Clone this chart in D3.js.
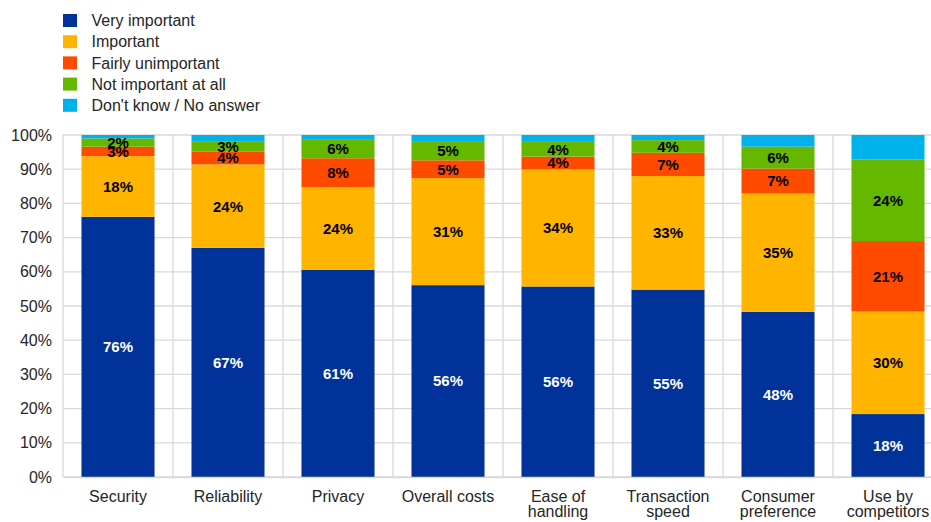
<!DOCTYPE html>
<html>
<head>
<meta charset="utf-8">
<script src="https://cdn.jsdelivr.net/npm/d3@7"></script>
<style>
  html, body { margin: 0; padding: 0; background: #fff; }
  svg { display: block; font-family: "Liberation Sans", Arial, sans-serif; }
</style>
</head>
<body>
<svg id="chart" width="931" height="522"></svg>
<script>
// Factors and their x-axis labels (line breaks as drawn)
const categories = ["Security", "Reliability", "Privacy", "Overall costs", "Ease of handling",
                    "Transaction speed", "Consumer preference", "Use by competitors"];
const tickLabels = [["Security"], ["Reliability"], ["Privacy"], ["Overall costs"], ["Ease of", "handling"],
                    ["Transaction", "speed"], ["Consumer", "preference"], ["Use by", "competitors"]];

// Share of respondents (%) per answer
const veryImportant      = [76.1, 67.0, 60.6, 56.1, 55.7, 54.8, 48.3, 18.4];
const important          = [17.7, 24.4, 24.2, 31.3, 34.3, 33.2, 34.6, 30.0];
const fairlyUnimportant  = [ 2.8,  3.7,  8.4,  5.2,  3.7,  6.8,  7.3, 20.6];
const notImportantAtAll  = [ 2.4,  3.1,  5.6,  5.4,  4.3,  3.7,  6.4, 23.9];
const dontKnow           = [ 1.0,  1.8,  1.2,  2.0,  2.0,  1.5,  3.4,  7.1];

const seriesNames = ["Very important", "Important", "Fairly unimportant", "Not important at all", "Don't know / No answer"];
const seriesColors = ["#003299", "#FFB400", "#FF4B00", "#65B800", "#00B1EA"];
const labelColors = ["#ffffff", "#000000", "#000000", "#000000", null]; // null: no value label
const yTicks = [0, 10, 20, 30, 40, 50, 60, 70, 80, 90, 100];

const seriesValues = [veryImportant, important, fairlyUnimportant, notImportantAtAll, dontKnow];
const keys = seriesNames;
const rows = categories.map((c, i) => {
  const r = { category: c };
  keys.forEach((k, j) => { r[k] = seriesValues[j][i]; });
  return r;
});
const stacked = d3.stack().keys(keys)(rows);

const svg = d3.select("#chart");
const margin = { left: 63, right: -12, top: 135, bottom: 45 };
const W = 931, H = 522;
const x = d3.scaleBand().domain(categories)
  .range([margin.left, W - margin.right])
  .paddingInner(0.336).paddingOuter(0.168);
const y = d3.scaleLinear().domain([0, 100]).range([H - margin.bottom, margin.top]);

const grid = "#d9d9d9";
// horizontal gridlines
svg.append("g").selectAll("line").data(yTicks).join("line")
  .attr("x1", margin.left).attr("x2", W - margin.right)
  .attr("y1", d => y(d)).attr("y2", d => y(d))
  .attr("stroke", grid).attr("stroke-width", 1.3);
// vertical gridlines at category boundaries
svg.append("g").selectAll("line").data(d3.range(categories.length + 1)).join("line")
  .attr("x1", i => x.range()[0] + i * x.step()).attr("x2", i => x.range()[0] + i * x.step())
  .attr("y1", y(100)).attr("y2", y(0))
  .attr("stroke", grid).attr("stroke-width", 1.3);

// stacked bars
const layers = svg.append("g").selectAll("g").data(stacked).join("g")
  .attr("fill", (d, i) => seriesColors[i]);
layers.selectAll("rect").data(d => d).join("rect")
  .attr("x", d => x(d.data.category))
  .attr("width", x.bandwidth())
  .attr("y", d => y(d[1]))
  .attr("height", d => y(d[0]) - y(d[1]));

// value labels, centred in each segment
const fmt = v => d3.format(".0f")(v) + "%";
stacked.forEach((layer, i) => {
  if (!labelColors[i]) return;
  svg.append("g").selectAll("text").data(layer).join("text")
    .attr("x", d => x(d.data.category) + x.bandwidth() / 2)
    .attr("y", d => (y(d[0]) + y(d[1])) / 2)
    .attr("dy", "0.36em")
    .attr("text-anchor", "middle")
    .attr("font-size", 15).attr("font-weight", "bold")
    .attr("fill", labelColors[i])
    .text(d => fmt(d.data[layer.key]));
});

// y axis
const yAxis = d3.axisLeft(y).tickValues(yTicks).tickFormat(d => d + "%").tickSize(0).tickPadding(11);
const yg = svg.append("g").attr("transform", `translate(${margin.left},0)`).call(yAxis);
yg.select(".domain").remove();
yg.selectAll("text").attr("font-size", 16).attr("fill", "#262626").attr("font-family", "Liberation Sans, Arial, sans-serif");

// x axis with wrapped category labels
const xAxis = d3.axisBottom(x).tickSize(0).tickFormat(() => "");
const xg = svg.append("g").attr("transform", `translate(0,${y(0)})`).call(xAxis);
xg.select(".domain").attr("stroke", grid).attr("stroke-width", 1.3);
xg.selectAll(".tick").each(function (d, i) {
  const t = d3.select(this).append("text")
    .attr("text-anchor", "middle").attr("fill", "#262626")
    .attr("font-size", 16).attr("font-family", "Liberation Sans, Arial, sans-serif");
  tickLabels[i].forEach((line, k) => {
    t.append("tspan").attr("x", 0).attr("y", 24.5 + k * 15.5).text(line);
  });
});

// legend
const legend = svg.append("g").attr("transform", "translate(63,14)");
const items = legend.selectAll("g").data(seriesNames).join("g")
  .attr("transform", (d, i) => `translate(0,${i * 21.2})`);
items.append("rect").attr("width", 14).attr("height", 13).attr("fill", (d, i) => seriesColors[i]);
items.append("text").attr("x", 28.5).attr("y", 6.5).attr("dy", "0.36em")
  .attr("font-size", 16).attr("fill", "#262626").text(d => d);
</script>
</body>
</html>
